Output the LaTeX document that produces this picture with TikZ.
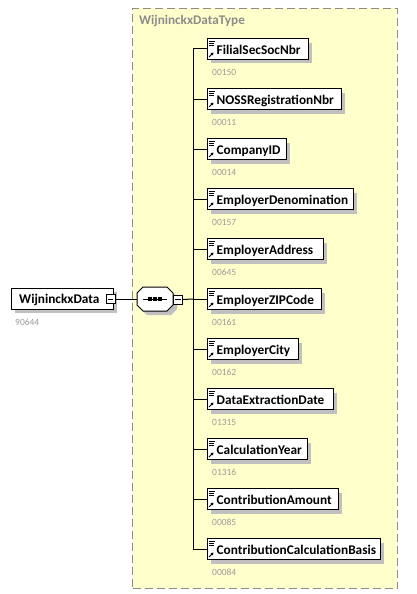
\documentclass[tikz,border=0pt]{standalone}
\usepackage{fontspec}
\setmainfont{Carlito}
\usetikzlibrary{arrows.meta}
\definecolor{typefill}{HTML}{FFFFCC}
\definecolor{dashgray}{HTML}{8C8C8C}
\definecolor{shadowgray}{HTML}{C0C0C0}
\definecolor{codegray}{HTML}{9A9A9A}
\tikzset{
  elembox/.style={draw=black, line width=1pt, fill=white, minimum height=20.5pt, inner sep=0pt},
  elemtext/.style={font=\bfseries\fontsize{13.3}{15}\selectfont, inner sep=0pt, anchor=base west},
  codetext/.style={font=\fontsize{9.5}{11}\selectfont, text=codegray, inner sep=0pt, anchor=base west},
  minusbox/.style={draw=black, line width=0.8pt, fill=white, minimum width=9pt, minimum height=9pt, inner sep=0pt},
  conn/.style={draw=black, line width=1pt},
}
\begin{document}
\begin{tikzpicture}[x=1pt,y=-1pt]
\useasboundingbox (0,0) rectangle (417,594);
% type container
\node[draw=dashgray, line width=1pt, dash pattern=on 8pt off 4pt, fill=typefill,
  minimum width=265pt, minimum height=580pt, inner sep=0pt, anchor=north west] (typebox) at (132,8) {};
\node[font=\bfseries\fontsize{13.2}{15}\selectfont, text=dashgray, inner sep=0pt, anchor=base west] (typetitle) at (139,24.5) {WijninckxDataType};
% root element
\fill[shadowgray] (15,292) rectangle (117,313);
\node[elembox, minimum width=102pt, minimum height=21pt, anchor=west] (root) at (11,298.5) {};
\node[elemtext] (roottext) at (19,303.5) {WijninckxData};
\node[minusbox] (rootminus) at (110.5,299) {};
\draw[line width=0.8pt] ([xshift=2pt]rootminus.west) -- ([xshift=-2pt]rootminus.east);
\node[codetext] (rootcode) at (15,325.5) {90644};
% sequence compositor
\fill[shadowgray] (147,291) -- (171,291) -- (177,297) -- (177,309) -- (171,315) -- (147,315) -- (141,309) -- (141,297) -- cycle;
\node[minimum width=36pt, minimum height=24pt, inner sep=0pt] (seq) at (155,299) {};
\filldraw[fill=white, draw=black, line width=1pt] (143,287) -- (167,287) -- (173,293) -- (173,305) -- (167,311) -- (143,311) -- (137,305) -- (137,293) -- cycle;
\draw[line width=1pt] (143,299) -- (167,299);
\foreach \dx in {150,155,160} \fill (\dx-1.7,297.3) rectangle (\dx+1.7,300.7);
\node[minusbox] (seqminus) at (178,299.5) {};
\draw[line width=0.8pt] ([xshift=2pt]seqminus.west) -- ([xshift=-2pt]seqminus.east);
\coordinate (spine) at (193,299);
\draw[conn] (rootminus.east) -- (seq.west);
\draw[conn] (seqminus.east) -- (spine);
% children
\foreach \i/\nm/\r/\cd in {1/FilialSecSocNbr/308/00150, 2/NOSSRegistrationNbr/341/00011, 3/CompanyID/286/00014,
  4/EmployerDenomination/353/00157, 5/EmployerAddress/323/00645, 6/EmployerZIPCode/321/00161,
  7/EmployerCity/298/00162, 8/DataExtractionDate/333/01315, 9/CalculationYear/307/01316,
  10/ContributionAmount/338/00085, 11/ContributionCalculationBasis/380/00084}{
  \pgfmathsetmacro{\yy}{49+50*(\i-1)}
  \pgfmathsetmacro{\ww}{\r-207}
  \fill[shadowgray] (211,\yy-6) rectangle (\r+4,\yy+14.5);
  \node[elembox, minimum width=\ww pt, anchor=west] (e\i) at (207,\yy) {};
  \node[elemtext] (t\i) at (216.5,\yy+5.5) {\nm};
  \node[codetext] (c\i) at (212,\yy+26) {\cd};
  \draw[line width=0.7pt] (209,\yy-8) -- (215,\yy-8) (209,\yy-6) -- (214,\yy-6) (209,\yy-4) -- (214,\yy-4);
  \draw[line width=1pt, -{Triangle[length=2.6pt,width=3pt]}] (209,\yy+8) -- (213.5,\yy+3.5);
  \draw[conn] (e\i.west) -| (spine);
}
\end{tikzpicture}
\end{document}
